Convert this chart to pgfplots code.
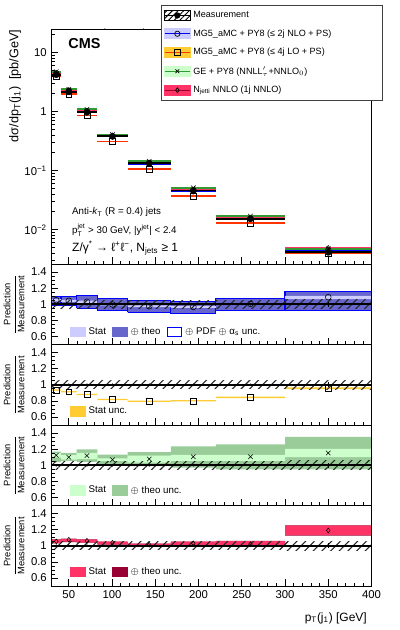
\documentclass[border=0pt]{standalone}
\usepackage{fontspec}
\setmainfont{Liberation Sans}
\usepackage{amsmath}
\usepackage{pgfplots}
\pgfplotsset{compat=1.18}
\usepackage{pgfplotstable}
\usetikzlibrary{patterns.meta}

\definecolor{nloStat}{HTML}{CCCCFF}
\definecolor{nloTheo}{HTML}{6666CC}
\definecolor{loStat}{HTML}{FFCC33}
\definecolor{loLine}{HTML}{FF3300}
\definecolor{geStat}{HTML}{CCFFCC}
\definecolor{geTheo}{HTML}{99CC99}
\definecolor{geLine}{HTML}{339933}
\definecolor{nnStat}{HTML}{FF3366}
\definecolor{nnTheo}{HTML}{990033}

% cross sections (pb/GeV), leading jet pT bins
\pgfplotstableread{
x0  x1  xc    xe   meas   mstat   nlo     lo      ge      nn
30  41  35.5  5.5  4.20   0.02    4.41    3.93    4.72    4.43
41  59  50    9    2.15   0.01    2.24    1.96    2.37    2.31
59  83  71    12   0.97   0.005   1.00    0.852   1.086   1.031
83  118 100.5 17.5 0.38   0.002   0.378   0.310   0.406   0.394
118 168 143   25   0.133  0.0008  0.130   0.106   0.143   0.135
168 220 194   26   0.046  0.0004  0.0445  0.0368  0.0509  0.0474
220 300 260   40   0.0152 0.0002  0.0153  0.0128  0.0168  0.0155
300 400 350   50   0.0041 0.0001  0.00446 0.00392 0.00473 0.00488
}\xsec

% prediction / measurement ratios with band edges
\pgfplotstableread{
x0  x1  xc    xe   one mstat mlo   mhi   nlo   nlosl nlosh nlotl nloth lo    losl  losh  ge    gesl  gesh  getl  geth  nn     nnsl  nnsh  nntl  nnth
30  41  35.5  5.5  1   0.004 0.95  1.05  1.050 1.035 1.065 0.985 1.095 0.935 0.927 0.943 1.123 1.095 1.150 1.040 1.170 1.054  1.035 1.075 1.030 1.078
41  59  50    9    1   0.004 0.95  1.05  1.042 1.030 1.055 0.985 1.100 0.913 0.905 0.921 1.100 1.070 1.125 1.055 1.153 1.075  1.050 1.083 1.045 1.088
59  83  71    12   1   0.004 0.95  1.05  1.030 1.015 1.045 0.950 1.110 0.878 0.870 0.886 1.120 1.077 1.153 1.043 1.196 1.0625 1.042 1.075 1.040 1.078
83  118 100.5 17.5 1   0.005 0.95  1.05  0.996 0.985 1.006 0.920 1.067 0.817 0.809 0.825 1.068 1.050 1.085 1.017 1.132 1.0375 1.017 1.050 1.015 1.052
118 168 143   25   1   0.006 0.95  1.05  0.975 0.965 0.985 0.900 1.045 0.796 0.788 0.804 1.077 1.034 1.120 0.990 1.162 1.0125 1.000 1.025 0.998 1.027
168 220 194   26   1   0.008 0.95  1.05  0.967 0.955 0.977 0.885 1.035 0.800 0.792 0.808 1.106 1.055 1.128 0.970 1.234 1.030  1.000 1.050 0.998 1.052
220 300 260   40   1   0.012 0.95  1.05  1.005 0.995 1.015 0.920 1.068 0.843 0.835 0.851 1.106 1.055 1.128 0.950 1.260 1.020  1.000 1.058 0.998 1.060
300 400 350   50   1   0.030 0.945 1.055 1.088 1.065 1.105 0.920 1.163 0.957 0.947 0.967 1.153 1.102 1.204 0.950 1.353 1.190  1.135 1.250 1.125 1.252
}\rat

% one box per bin, from two columns of a table
\newcommand{\binboxes}[4]{%
  \pgfplotsinvokeforeach{0,...,7}{%
    \pgfplotstablegetelem{##1}{x0}\of#1\let\bxa\pgfplotsretval
    \pgfplotstablegetelem{##1}{x1}\of#1\let\bxb\pgfplotsretval
    \pgfplotstablegetelem{##1}{#2}\of#1\let\bylo\pgfplotsretval
    \pgfplotstablegetelem{##1}{#3}\of#1\let\byhi\pgfplotsretval
    \edef\binplot{\noexpand\addplot[#4] coordinates
      {(\bxa,\bylo) (\bxb,\bylo) (\bxb,\byhi) (\bxa,\byhi) (\bxa,\bylo)};}%
    \binplot
  }%
}

\newcommand{\measplots}{%
  \binboxes{\rat}{mlo}{mhi}{hatchbox}
  \addplot[predline=black] table[x=xc, y=one, x error=xe] {\rat};
  \addplot[only marks, mark=*, mark size=0.7pt, black, forget plot,
    error bars/.cd, y dir=both, y explicit, error mark=none,
    error bar style={draw=black, line width=0.9pt}]
    table[x=xc, y=one, y error=mstat] {\rat};
}

\pgfplotsset{
  cmsbase/.style={
    scale only axis, width=240pt, anchor=north west,
    xmin=30, xmax=400,
    tick align=inside, tick pos=left, axis on top,
    major tick length=5pt, minor tick length=2.5pt,
    xtick={50,100,...,400}, minor x tick num=4,
    tick label style={font=\fontsize{8.5}{10}\selectfont},
    /pgf/number format/assume math mode=true,
    every tick/.style={black, line width=0.5pt},
    axis line style={line width=0.6pt},
  },
  ratio/.style={
    cmsbase, height=60.375pt,
    ymin=0.5, ymax=1.5,
    ytick={0.6,0.8,1,1.2,1.4}, minor y tick num=3,
    xticklabels={},
    ylabel={$\dfrac{\text{Prediction}}{\text{Measurement}}$},
    ylabel style={at={(axis description cs:-0.117,0.5)}, anchor=center,
      font=\fontsize{7}{8}\selectfont},
    legend columns=-1,
    legend style={at={(axis description cs:0.045,#1)}, anchor=south west,
      draw=none, fill=none, font=\fontsize{7.3}{8.5}\selectfont,
      /tikz/every odd column/.append style={column sep=0.5pt},
      /tikz/every even column/.append style={column sep=2.5pt}},
  },
  hatchbox/.style={draw=none, forget plot,
    pattern={Lines[angle=45,distance=4.6pt,line width=0.8pt]}, pattern color=black!85},
  nlobox/.style={fill=nloTheo, draw=blue, line width=0.8pt, forget plot},
  nlostatbox/.style={fill=nloStat, draw=none, forget plot},
  lostatbox/.style={fill=loStat, draw=none, forget plot},
  gestatbox/.style={fill=geStat, draw=none, forget plot},
  getheobox/.style={fill=geTheo, draw=none, forget plot},
  nnstatbox/.style={fill=nnStat, draw=none, forget plot},
  nntheobox/.style={fill=nnTheo, draw=none, forget plot},
  % horizontal bin-wide line only: no marks, no connecting line
  predline/.style={draw=none, mark=none, forget plot,
    error bars/.cd, x dir=both, x explicit, error mark=none,
    error bar style={draw=#1, line width=1.3pt}},
}

\begin{document}
\begin{tikzpicture}
\useasboundingbox (0,0) rectangle (299.25pt,-472.5pt);

%% main panel
\begin{axis}[cmsbase, at={(38.625pt,-21.75pt)}, height=176.25pt,
  ymode=log, ymin=0.0026, ymax=25,
  xticklabels={},
  ytick={0.01,0.1,1,10},
  yticklabels={10\textsuperscript{−2},10\textsuperscript{−1},1,10},
  minor ytick={0.003,0.004,0.005,0.006,0.007,0.008,0.009,
    0.02,0.03,0.04,0.05,0.06,0.07,0.08,0.09,
    0.2,0.3,0.4,0.5,0.6,0.7,0.8,0.9,2,3,4,5,6,7,8,9,20},
  ylabel={dσ/dp\textsubscript{T}(j\textsubscript{1})\ \ [pb/GeV]},
  ylabel style={at={(axis description cs:-0.114,1.017)}, anchor=east,
    font=\fontsize{9.5}{11}\selectfont},
  legend cell align=left,
  legend style={at={(axis description cs:1.036,1.102)}, anchor=north east,
    font=\fontsize{6.8}{8}\selectfont, draw=black!75, line width=0.5pt,
    fill=white, inner xsep=2pt, inner ysep=2.5pt, row sep=3.4pt},
]
\addplot[predline=loLine] table[x=xc, y=lo, x error=xe] {\xsec};
\addplot[predline=blue] table[x=xc, y=nlo, x error=xe] {\xsec};
\addplot[predline=nnStat] table[x=xc, y=nn, x error=xe] {\xsec};
\addplot[predline=geLine] table[x=xc, y=ge, x error=xe] {\xsec};
\addplot[predline=black] table[x=xc, y=meas, x error=xe] {\xsec};
\addplot[only marks, mark=square, mark size=2.2pt, black, forget plot] table[x=xc, y=lo] {\xsec};
\addplot[only marks, mark=o, mark size=2.2pt, black, forget plot] table[x=xc, y=nlo] {\xsec};
\addplot[only marks, mark=diamond, mark size=1.8pt, black, forget plot] table[x=xc, y=nn] {\xsec};
\addplot[only marks, mark=x, mark size=2.4pt, black, forget plot] table[x=xc, y=ge] {\xsec};
\addplot[only marks, mark=*, mark size=2.3pt, black, forget plot,
  error bars/.cd, y dir=both, y explicit, error bar style={black, line width=0.8pt}]
  table[x=xc, y=meas, y error=mstat] {\xsec};

\node[anchor=base west, inner sep=0pt, font=\fontsize{9}{10}\selectfont]
  at (rel axis cs:0,1) [yshift=2.2pt] {2.19 fb\textsuperscript{−1} (13 TeV)};
\node[anchor=north west, inner sep=0pt, font=\fontsize{10.8}{12}\selectfont\bfseries]
  at (rel axis cs:0.052,0.962) {CMS};
\node[anchor=base west, inner sep=0pt, font=\fontsize{7.3}{8}\selectfont]
  at (rel axis cs:0.064,0.21) {Anti-\textit{k}\textsubscript{T} (R = 0.4) jets};
\node[anchor=base west, inner sep=0pt, font=\fontsize{7.3}{8}\selectfont]
  at (rel axis cs:0.064,0.13) {$\text{p}_{\text{T}}^{\text{jet}}$ > 30 GeV, |y$^{\text{jet}}$| < 2.4};
\node[anchor=base west, inner sep=0pt, font=\fontsize{9}{10}\selectfont]
  at (rel axis cs:0.064,0.052) {Z/γ\textsuperscript{*} → ℓ\textsuperscript{+}ℓ\textsuperscript{−}, N\textsubscript{jets} ≥ 1};

\addlegendimage{legend image code/.code={
  \fill[pattern={Lines[angle=45,distance=3pt,line width=0.7pt]}, pattern color=black]
    (0pt,-3.75pt) rectangle (19pt,3.75pt);
  \draw[black, line width=1pt, mark=*, mark size=1.8pt, mark repeat=2, mark phase=2]
    plot coordinates {(0pt,0pt) (9.5pt,0pt) (19pt,0pt)};}}
\addlegendentry{\makebox[138pt][l]{Measurement}}
\addlegendimage{legend image code/.code={
  \fill[nloStat] (0pt,-3.75pt) rectangle (19pt,3.75pt);
  \draw[blue, line width=1pt, mark=o, mark options={black, line width=0.5pt},
    mark size=2pt, mark repeat=2, mark phase=2]
    plot coordinates {(0pt,0pt) (9.5pt,0pt) (19pt,0pt)};}}
\addlegendentry{MG5\_aMC + PY8 (≤ 2j NLO + PS)}
\addlegendimage{legend image code/.code={
  \fill[loStat] (0pt,-3.75pt) rectangle (19pt,3.75pt);
  \draw[loLine, line width=1pt, mark=square, mark options={black, line width=0.5pt},
    mark size=2pt, mark repeat=2, mark phase=2]
    plot coordinates {(0pt,0pt) (9.5pt,0pt) (19pt,0pt)};}}
\addlegendentry{MG5\_aMC + PY8 (≤ 4j LO + PS)}
\addlegendimage{legend image code/.code={
  \fill[geStat] (0pt,-3.75pt) rectangle (19pt,3.75pt);
  \draw[geLine, line width=1pt, mark=x, mark options={black, line width=0.5pt},
    mark size=2pt, mark repeat=2, mark phase=2]
    plot coordinates {(0pt,0pt) (9.5pt,0pt) (19pt,0pt)};}}
\addlegendentry{GE + PY8 (NNLL$'_{\tau}$+NNLO$_{0}$)}
\addlegendimage{legend image code/.code={
  \fill[nnStat] (0pt,-3.75pt) rectangle (19pt,3.75pt);
  \draw[nnTheo, line width=1pt, mark=diamond, mark options={black, line width=0.5pt},
    mark size=1.8pt, mark repeat=2, mark phase=2]
    plot coordinates {(0pt,0pt) (9.5pt,0pt) (19pt,0pt)};}}
\addlegendentry{N\textsubscript{jetti} NNLO (1j NNLO)}
\end{axis}

%% ratio 1: MG5_aMC NLO
\begin{axis}[ratio=0.03, at={(38.625pt,-198pt)}]
\binboxes{\rat}{nlotl}{nloth}{nlobox}
\binboxes{\rat}{nlosl}{nlosh}{nlostatbox}
\measplots
\addplot[only marks, mark=o, mark size=2.2pt, black, forget plot] table[x=xc, y=nlo] {\rat};
\addlegendimage{legend image code/.code={\fill[nloStat] (0pt,-3.6pt) rectangle (11pt,3.6pt);}}
\addlegendentry{Stat}
\addlegendimage{legend image code/.code={\fill[nloTheo] (0pt,-3.6pt) rectangle (11pt,3.6pt);}}
\addlegendentry{$\oplus$ theo}
\addlegendimage{blue, legend image code/.code={\path[draw=blue, line width=1pt, fill=white] (0pt,-3.3pt) rectangle (10.5pt,3.3pt);}}
\addlegendentry{$\oplus$ PDF $\oplus$ α\textsubscript{s} unc.}
\end{axis}

%% ratio 2: MG5_aMC LO
\begin{axis}[ratio=0.047, at={(38.625pt,-258.375pt)}]
\binboxes{\rat}{losl}{losh}{lostatbox}
\measplots
\addplot[only marks, mark=square, mark size=2.2pt, black, forget plot] table[x=xc, y=lo] {\rat};
\addlegendimage{legend image code/.code={\fill[loStat] (0pt,-3.6pt) rectangle (11pt,3.6pt);}}
\addlegendentry{Stat unc.}
\end{axis}

%% ratio 3: GENEVA
\begin{axis}[ratio=0.06, at={(38.625pt,-318.75pt)}]
\binboxes{\rat}{getl}{geth}{getheobox}
\binboxes{\rat}{gesl}{gesh}{gestatbox}
\measplots
\addplot[only marks, mark=x, mark size=2.4pt, black, forget plot] table[x=xc, y=ge] {\rat};
\addlegendimage{legend image code/.code={\fill[geStat] (0pt,-3.6pt) rectangle (11pt,3.6pt);}}
\addlegendentry{Stat}
\addlegendimage{legend image code/.code={\fill[geTheo] (0pt,-3.6pt) rectangle (11pt,3.6pt);}}
\addlegendentry{$\oplus$ theo unc.}
\end{axis}

%% ratio 4: N_jetti NNLO
\begin{axis}[ratio=0.05, at={(38.625pt,-379.125pt)},
  xticklabels={50,100,150,200,250,300,350,400},
  xlabel={p\textsubscript{T}(j\textsubscript{1}) [GeV]},
  xlabel style={at={(axis description cs:1,-0.27)}, anchor=north east,
    font=\fontsize{9}{10}\selectfont},
]
\binboxes{\rat}{nntl}{nnth}{nntheobox}
\binboxes{\rat}{nnsl}{nnsh}{nnstatbox}
\measplots
\addplot[only marks, mark=diamond, mark size=1.8pt, black, forget plot] table[x=xc, y=nn] {\rat};
\addlegendimage{legend image code/.code={\fill[nnStat] (0pt,-3.6pt) rectangle (11pt,3.6pt);}}
\addlegendentry{Stat}
\addlegendimage{legend image code/.code={\fill[nnTheo] (0pt,-3.6pt) rectangle (11pt,3.6pt);}}
\addlegendentry{$\oplus$ theo unc.}
\end{axis}
\end{tikzpicture}
\end{document}
